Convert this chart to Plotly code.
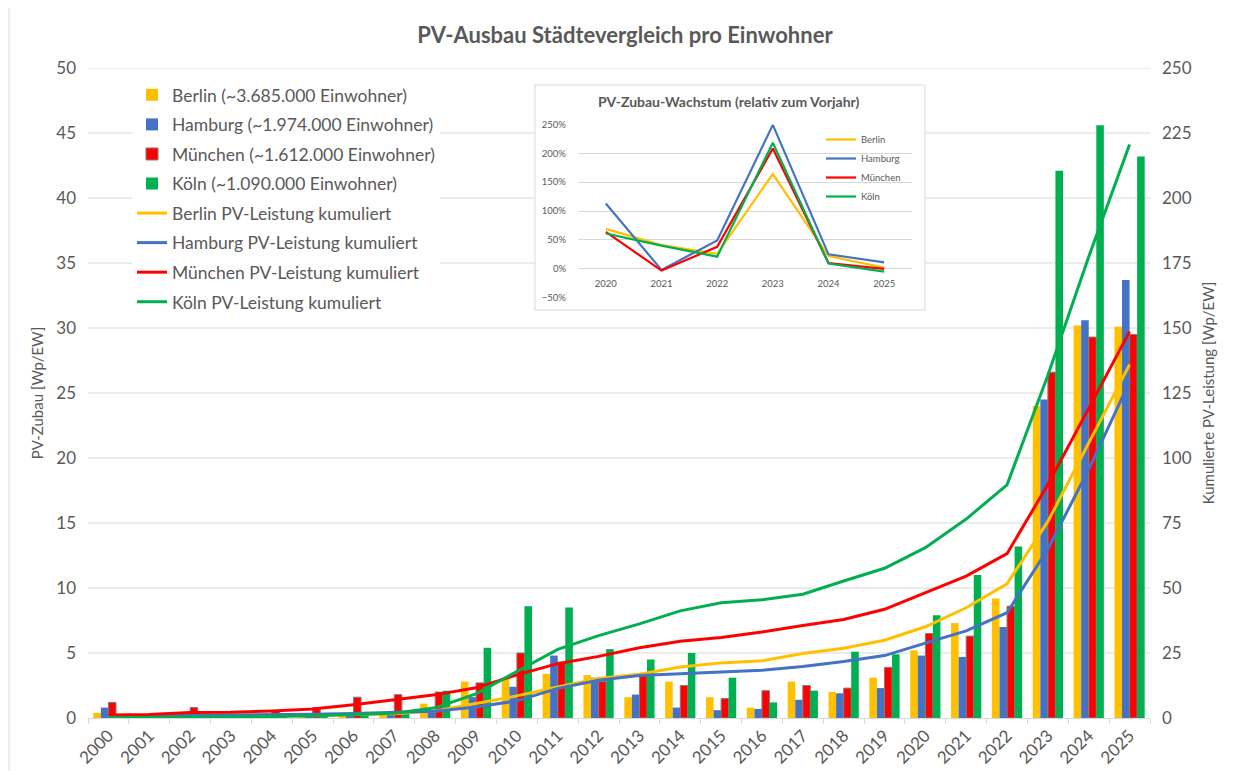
import plotly.graph_objects as go

years = [str(y) for y in range(2000, 2026)]

berlin_zubau = [0.4, 0.05, 0.1, 0.1, 0.1, 0.2, 0.3, 0.3, 1.1, 2.8, 3.0, 3.4, 3.3, 1.6, 2.8, 1.6, 0.8, 2.8, 2.0, 3.1, 5.2, 7.3, 9.2, 24.0, 30.2, 30.1]
hamburg_zubau = [0.8, 0.1, 0.1, 0.1, 0.1, 0.2, 0.3, 0.4, 0.5, 1.6, 2.4, 4.8, 3.1, 1.8, 0.8, 0.6, 0.7, 1.4, 1.9, 2.3, 4.8, 4.7, 7.0, 24.5, 30.6, 33.7]
muenchen_zubau = [1.2, 0.1, 0.8, 0.1, 0.5, 0.8, 1.6, 1.8, 2.0, 2.7, 5.0, 4.3, 2.8, 3.3, 2.5, 1.5, 2.1, 2.5, 2.3, 3.9, 6.5, 6.3, 8.6, 26.6, 29.3, 29.5]
koeln_zubau = [0.1, 0.05, 0.1, 0.1, 0.2, 0.3, 0.4, 0.5, 2.1, 5.4, 8.6, 8.5, 5.3, 4.5, 5.0, 3.1, 1.2, 2.1, 5.1, 4.9, 7.9, 11.0, 13.2, 42.1, 45.6, 43.2]

berlin_kum = [0.4, 0.5, 0.6, 0.7, 0.8, 1.0, 1.3, 1.6, 2.7, 5.5, 8.5, 11.9, 15.2, 16.8, 19.6, 21.2, 22.0, 24.8, 26.8, 29.9, 35.1, 42.4, 51.6, 75.6, 105.8, 135.9]
hamburg_kum = [0.8, 0.9, 1.0, 1.1, 1.2, 1.4, 1.7, 2.1, 2.6, 4.2, 6.6, 11.4, 14.5, 16.3, 17.1, 17.7, 18.4, 19.8, 21.7, 24.0, 28.8, 33.5, 40.5, 65.0, 95.6, 129.3]
muenchen_kum = [1.2, 1.3, 2.1, 2.2, 2.7, 3.5, 5.1, 6.9, 8.9, 11.6, 16.6, 20.9, 23.7, 27.0, 29.5, 31.0, 33.1, 35.6, 37.9, 41.8, 48.3, 54.6, 63.2, 89.8, 119.1, 148.6]
koeln_kum = [0.1, 0.2, 0.3, 0.4, 0.6, 0.9, 1.3, 1.8, 3.9, 9.3, 17.9, 26.4, 31.7, 36.2, 41.2, 44.3, 45.5, 47.6, 52.7, 57.6, 65.5, 76.5, 89.7, 131.8, 177.4, 220.6]

growth_years = ["2020", "2021", "2022", "2023", "2024", "2025"]
berlin_growth = [69, 41, 26, 164, 22, 2]
hamburg_growth = [113, -2, 49, 249, 25, 11]
muenchen_growth = [64, -3, 38, 208, 10, 0]
koeln_growth = [61, 40, 21, 218, 9, -5]

bar_names = ["Berlin (~3.685.000 Einwohner)", "Hamburg (~1.974.000 Einwohner)",
             "München (~1.612.000 Einwohner)", "Köln (~1.090.000 Einwohner)"]
line_names = ["Berlin PV-Leistung kumuliert", "Hamburg PV-Leistung kumuliert",
              "München PV-Leistung kumuliert", "Köln PV-Leistung kumuliert"]
city_names = ["Berlin", "Hamburg", "München", "Köln"]
colors = ["#FFC000", "#4472C4", "#FF0000", "#00B050"]
main_grid_values = [5, 10, 15, 20, 25, 30, 35, 40, 45, 50]

FONT = "Lato"
GREY = "#595959"
GRID = "#D9D9D9"

# page has an 8px body margin: figure pixel = reference pixel - 8
OFF = 8
W, H = 1236 - OFF, 771 - OFF
PL, PR, PT, PB = 88, 1150, 68, 718       # plot area in reference pixels
PW, PH = PR - PL, PB - PT


def px_x(x):
    return (x - PL) / PW


def px_y(y):
    return (PB - y) / PH


fig = go.Figure()

zubau = [berlin_zubau, hamburg_zubau, muenchen_zubau, koeln_zubau]
kum = [berlin_kum, hamburg_kum, muenchen_kum, koeln_kum]
growth = [berlin_growth, hamburg_growth, muenchen_growth, koeln_growth]

for i in range(4):
    fig.add_trace(go.Bar(
        x=years, y=zubau[i], name=bar_names[i],
        marker=dict(color=colors[i],
                    line=dict(color="#7F7F7F" if i == 2 else colors[i], width=1 if i == 2 else 0)),
        xaxis="x", yaxis="y", legendgroup=f"b{i}",
    ))
for i in range(4):
    fig.add_trace(go.Scatter(
        x=years, y=kum[i], name=line_names[i], mode="lines",
        line=dict(color=colors[i], width=3),
        xaxis="x", yaxis="y2", legendgroup=f"l{i}",
    ))
for i in range(4):
    fig.add_trace(go.Scatter(
        x=growth_years, y=growth[i], name=city_names[i], mode="lines",
        line=dict(color=colors[i], width=2.2),
        xaxis="x3", yaxis="y3", legend="legend2",
    ))

fig.update_layout(
    width=W, height=H,
    margin=dict(l=PL - OFF, r=W - (PR - OFF), t=PT - OFF, b=H - (PB - OFF)),
    paper_bgcolor="white", plot_bgcolor="white",
    font=dict(family=FONT, color=GREY),
    barmode="group", bargap=0.26, bargroupgap=0,
    title=dict(text="<b>PV-Ausbau Städtevergleich pro Einwohner</b>",
               x=(625 - OFF) / W, xanchor="center", y=1 - (35 - OFF) / H, yanchor="middle",
               font=dict(family=FONT, size=22, color=GREY)),
    xaxis=dict(type="category", tickangle=-45, tickfont=dict(size=17, color=GREY),
               showgrid=False, showline=True, linecolor=GRID, ticks="outside",
               tickson="boundaries", ticklen=5, tickcolor=GRID, automargin=False),
    yaxis=dict(range=[0, 50], dtick=5, showgrid=False, zeroline=False,
               showline=False, tickfont=dict(size=17, color=GREY), automargin=False,
               ticklabelstandoff=11,
               title=dict(text="PV-Zubau [Wp/EW]", font=dict(size=15, color=GREY), standoff=9)),
    yaxis2=dict(range=[0, 250], dtick=25, overlaying="y", side="right", showgrid=False,
                zeroline=False, showline=False, tickfont=dict(size=17, color=GREY), automargin=False,
                ticklabelstandoff=11,
                title=dict(text="Kumulierte PV-Leistung [Wp/EW]", font=dict(size=15, color=GREY), standoff=12)),
    xaxis3=dict(type="category", domain=[px_x(578), px_x(912)], range=[-0.5, 5.5],
                anchor="free", position=px_y(269), showgrid=False, showline=False,
                ticks="", tickfont=dict(size=9.5, color=GREY), automargin=False,
                ticklabelstandoff=7),
    yaxis3=dict(domain=[px_y(297.7), px_y(124.3)], anchor="x3",
                range=[-50, 250], dtick=50, ticksuffix="%", gridcolor=GRID, zeroline=False,
                showline=False, ticks="", tickfont=dict(size=9.5, color=GREY), automargin=False,
                ticklabelstandoff=11),
    legend=dict(x=px_x(132), y=px_y(77), xanchor="left", yanchor="top",
                bgcolor="white", font=dict(family=FONT, size=17.5, color=GREY),
                traceorder="grouped", tracegroupgap=3.8),
    legend2=dict(x=px_x(821), y=px_y(125), xanchor="left", yanchor="top",
                 bgcolor="rgba(0,0,0,0)", font=dict(family=FONT, size=9.5, color=GREY)),
    showlegend=True,
)

# main horizontal gridlines (drawn as shapes so the inset frame can cover them)
for v in main_grid_values:
    fig.add_shape(type="line", xref="paper", yref="y", x0=0, x1=1, y0=v, y1=v,
                  line=dict(color=GRID, width=1), layer="below")

# inset frame: white box over the main gridlines, beneath the inset subplot
fig.add_shape(type="rect", xref="paper", yref="paper",
              x0=px_x(535), x1=px_x(925), y0=px_y(310), y1=px_y(85),
              fillcolor="white", line=dict(color=GRID, width=1), layer="below")

# chart area border on the left
fig.add_shape(type="line", xref="paper", yref="paper",
              x0=px_x(OFF + 1), x1=px_x(OFF + 1), y0=px_y(771), y1=px_y(0),
              line=dict(color=GRID, width=1), layer="above")

fig.add_annotation(text="<b>PV-Zubau-Wachstum (relativ zum Vorjahr)</b>",
                   xref="paper", yref="paper", x=px_x(728), y=px_y(102),
                   xanchor="center", yanchor="middle",
                   showarrow=False, font=dict(family=FONT, size=14, color=GREY))

fig.write_html("out.html")
